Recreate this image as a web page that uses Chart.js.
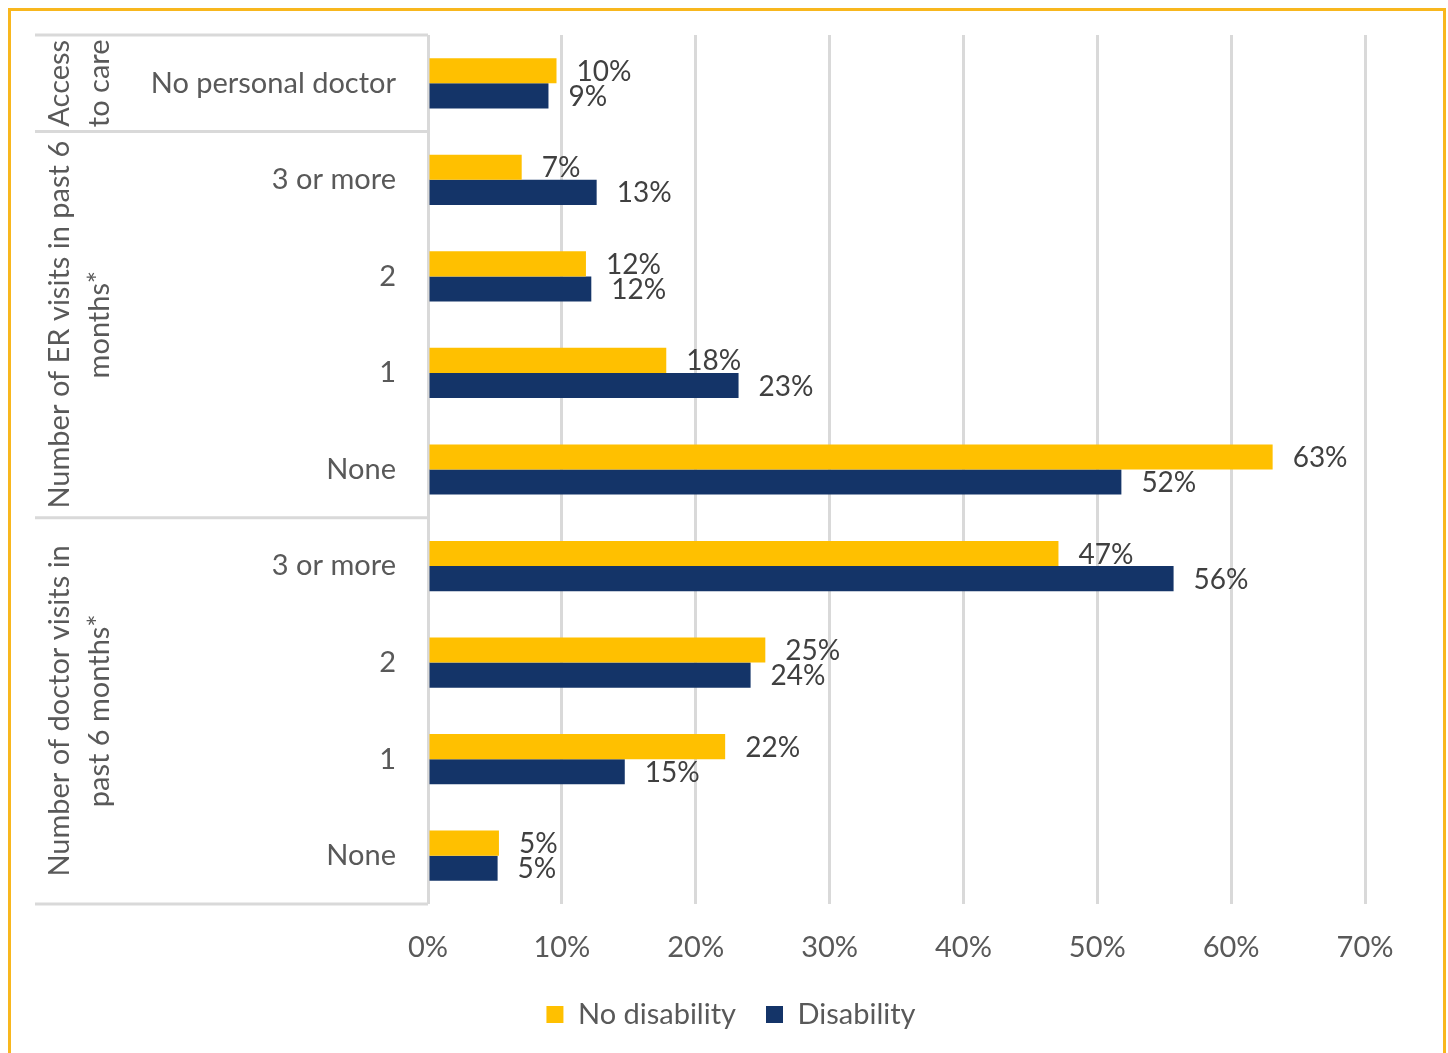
<!DOCTYPE html>
<html>
<head>
<meta charset="utf-8">
<script src="https://cdn.jsdelivr.net/npm/chart.js@4.4.1/dist/chart.umd.min.js"></script>
<style>
  html, body { margin: 0; padding: 0; background: #ffffff; }
  #wrap { position: relative; width: 1448px; height: 1053px; overflow: hidden; }
  #frame {
    position: absolute; left: 8px; top: 8px; width: 1432px; height: 1060px;
    border: 3px solid #F8B71E; pointer-events: none;
  }
  canvas { position: absolute; left: 0; top: 0; }
</style>
</head>
<body>
<div id="wrap">
  <canvas id="chart" width="1448" height="1053"></canvas>
  <div id="frame"></div>
</div>
<script>
// Categories, top to bottom
const categories = ['No personal doctor', '3 or more', '2', '1', 'None', '3 or more', '2', '1', 'None'];

// Share of respondents (%) per category
const noDisability = [9.6, 7.0, 11.8, 17.8, 63.1, 47.1, 25.2, 22.2, 5.3];
const disability   = [9.0, 12.6, 12.2, 23.2, 51.8, 55.7, 24.1, 14.7, 5.2];

// Group headings: text lines and the first/last category index they span
const groupLabels = [
  ['Access', 'to care'],
  ['Number of ER visits in past 6', 'months*'],
  ['Number of doctor visits in', 'past 6 months*']
];
const groupStart = [0, 1, 5];
const groupEnd   = [0, 4, 8];

// X axis range and tick step (%)
const xMin = 0, xMax = 70, xStep = 10;

const FONT = 'Lato, "Open Sans", sans-serif';
const GRID = '#D9D9D9';

// Group headings and separator lines on the left of the bars
const groupPlugin = {
  id: 'groups',
  afterDraw(chart) {
    const ctx = chart.ctx;
    const y = chart.scales.y;
    const area = chart.chartArea;
    const half = (y.getPixelForValue(1) - y.getPixelForValue(0)) / 2;
    const left = 35;
    ctx.save();
    ctx.strokeStyle = GRID;
    ctx.lineWidth = 3;
    const edges = [y.getPixelForValue(0) - half];
    groupEnd.forEach(i => edges.push(y.getPixelForValue(i) + half));
    edges.forEach(py => {
      ctx.beginPath();
      ctx.moveTo(left, py);
      ctx.lineTo(area.left, py);
      ctx.stroke();
    });
    ctx.fillStyle = '#595959';
    ctx.font = '29px ' + FONT;
    ctx.textAlign = 'center';
    ctx.textBaseline = 'middle';
    groupLabels.forEach((lines, g) => {
      const cy = (y.getPixelForValue(groupStart[g]) + y.getPixelForValue(groupEnd[g])) / 2;
      lines.forEach((t, k) => {
        ctx.save();
        ctx.translate(60 + k * 40, cy);
        ctx.rotate(-Math.PI / 2);
        ctx.fillText(t, 0, 0);
        ctx.restore();
      });
    });
    ctx.restore();
  }
};

// Percentage labels to the right of each bar
const valueLabelPlugin = {
  id: 'valueLabels',
  afterDatasetsDraw(chart) {
    const ctx = chart.ctx;
    ctx.save();
    ctx.fillStyle = '#404040';
    ctx.font = '28px ' + FONT;
    ctx.textAlign = 'left';
    ctx.textBaseline = 'middle';
    chart.data.datasets.forEach((ds, di) => {
      const meta = chart.getDatasetMeta(di);
      meta.data.forEach((bar, i) => {
        ctx.fillText(Math.round(ds.data[i]) + '%', bar.x + 20, bar.y + 1);
      });
    });
    ctx.restore();
  }
};

new Chart(document.getElementById('chart'), {
  type: 'bar',
  data: {
    labels: categories,
    datasets: [
      { label: 'No disability', data: noDisability, backgroundColor: '#FFC000', borderWidth: 0 },
      { label: 'Disability', data: disability, backgroundColor: '#143468', borderWidth: 0 }
    ]
  },
  options: {
    indexAxis: 'y',
    responsive: false,
    animation: false,
    devicePixelRatio: 1,
    datasets: { bar: { categoryPercentage: 0.52, barPercentage: 1 } },
    layout: { padding: { left: 97, right: 83, top: 35, bottom: 14 } },
    scales: {
      x: {
        min: xMin, max: xMax,
        grid: { color: GRID, lineWidth: 3, drawTicks: false },
        border: { display: false },
        ticks: {
          stepSize: xStep,
          padding: 26,
          color: '#595959',
          font: { family: FONT, size: 29 },
          callback: v => v + '%'
        },
        afterFit(scale) {
          scale.height = 66;
          scale.paddingLeft = 0;
          scale.paddingRight = 0;
        }
      },
      y: {
        grid: { display: false, drawTicks: false },
        border: { display: false },
        ticks: {
          padding: 32,
          color: '#595959',
          font: { family: FONT, size: 29 }
        },
        afterFit(scale) {
          scale.width = 331;
          scale.paddingTop = 0;
          scale.paddingBottom = 0;
        }
      }
    },
    plugins: {
      legend: {
        position: 'bottom',
        labels: {
          boxWidth: 17, boxHeight: 17, padding: 30,
          color: '#595959',
          font: { family: FONT, size: 29 }
        }
      },
      tooltip: { enabled: false }
    }
  },
  plugins: [groupPlugin, valueLabelPlugin]
});
</script>
</body>
</html>
